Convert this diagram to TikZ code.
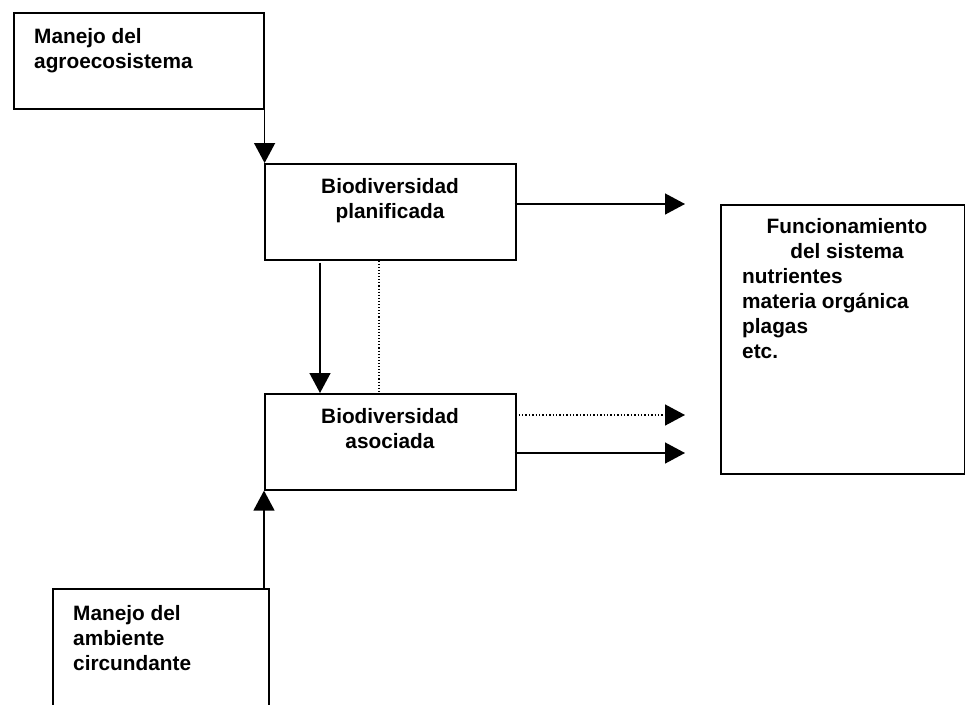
\documentclass[tikz,border=0pt]{standalone}
\usepackage{fontspec}
\setmainfont{Liberation Sans}
\usetikzlibrary{arrows.meta,calc}
\begin{document}
\begin{tikzpicture}[x=1pt,y=-1pt,
  box/.style={draw, line width=1.6pt, inner sep=0, anchor=north west},
  conn/.style={line width=1.4pt, -{Triangle[length=20pt,width=21pt]}},
  dotconn/.style={line width=1.4pt, dotted, -{Triangle[length=20pt,width=21pt]}},
  lbl/.style={font=\bfseries\fontsize{20.8}{25}\selectfont, inner sep=0}]
\path[use as bounding box, clip] (0,0) rectangle (965,704);
% boxes
\node[box, minimum width=250pt, minimum height=96pt] (b1) at (13,12) {};
\node[box, minimum width=251pt, minimum height=96pt] (b2) at (264,163) {};
\node[box, minimum width=251pt, minimum height=96pt] (b3) at (264,393) {};
\node[box, minimum width=244pt, minimum height=269pt] (b4) at (720,204) {};
\node[box, minimum width=216pt, minimum height=140pt] (b5) at (52,588) {};
% texts
\node[lbl, anchor=north west, align=left] (t1) at (34,28) {Manejo del\\agroecosistema};
\node[lbl, anchor=north, align=center] (t2) at (390,178) {Biodiversidad\\planificada};
\node[lbl, anchor=north, align=center] (t3) at (390,408) {Biodiversidad\\asociada};
\node[lbl, anchor=north, align=center] (t4) at (847,218) {Funcionamiento\\del sistema};
\node[lbl, anchor=north west, align=left] (t5) at (742,268) {nutrientes\\materia orgánica\\plagas\\etc.};
\node[lbl, anchor=north west, align=left] (t6) at (73,605) {Manejo del\\ambiente\\circundante};
% target coordinates
\coordinate (e1) at ($(b4.north west)+(-35,0)$);
\coordinate (e2) at ($(b4.north west)+(-35,211)$);
\coordinate (e3) at ($(b4.north west)+(-35,249)$);
% connectors
\draw[conn] (b1.south east) -- (b1.south east |- b2.north);
\draw[conn] ($(b2.north east)+(-2,41)$) -- (e1);
\draw[conn] ($(b2.south west)+(56,2)$) -- ($(b3.north west)+(56,0)$);
\draw[line width=1.1pt, dotted] ($(b2.south west)+(115,0)$) -- ($(b3.north west)+(115,0)$);
\draw[dotconn] ($(b3.north east)+(2,22)$) -- (e2);
\draw[conn] ($(b3.north east)+(-2,60)$) -- (e3);
\draw[conn] (b3.south west |- b5.north) -- (b3.south west);
\end{tikzpicture}
\end{document}
